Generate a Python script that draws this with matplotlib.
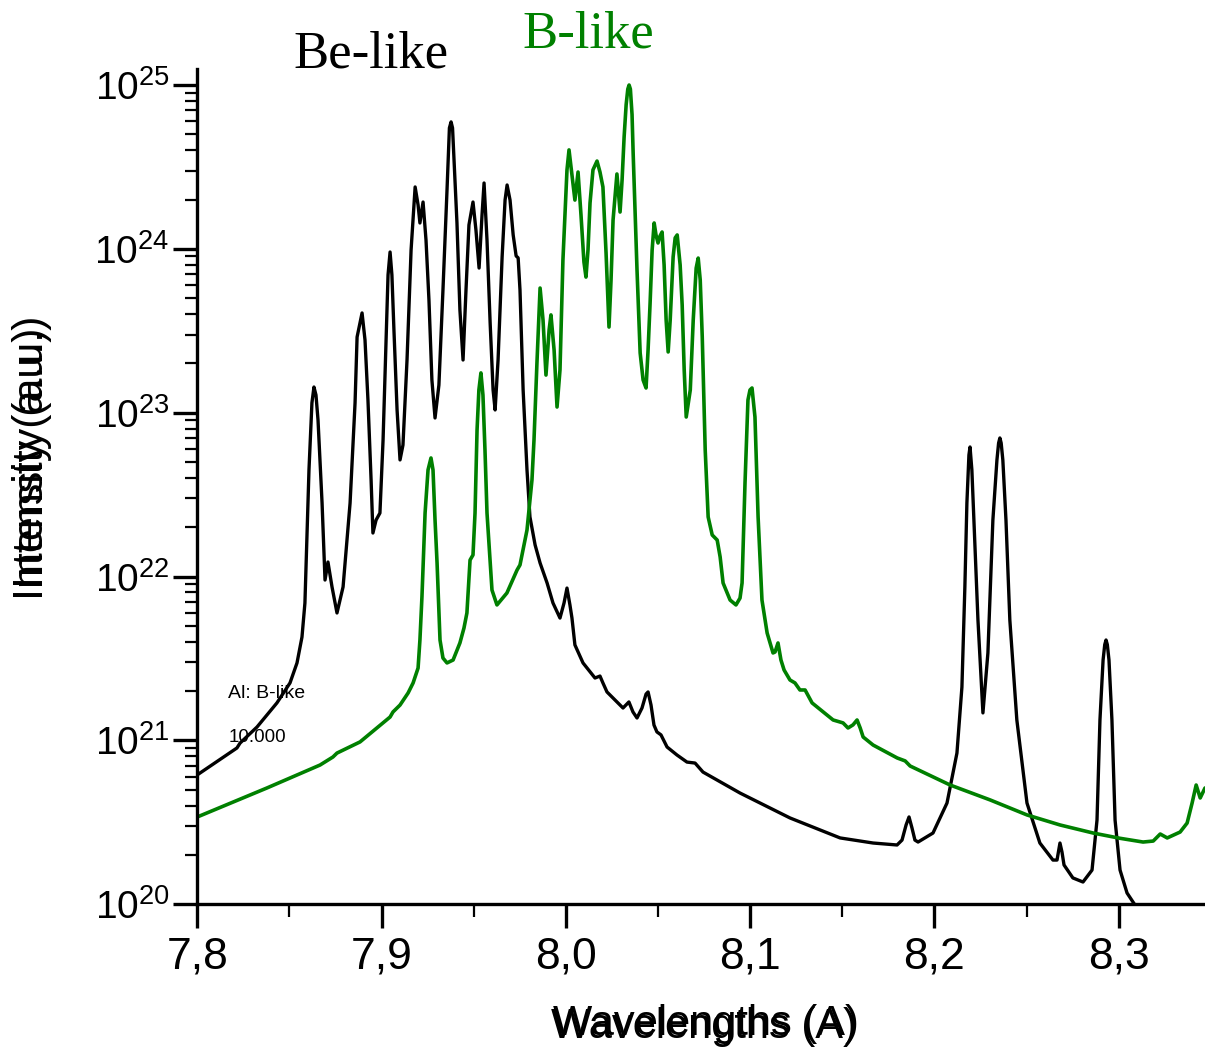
import numpy as np
import matplotlib
matplotlib.use('Agg')
import matplotlib.pyplot as plt
from matplotlib.ticker import FixedLocator, LogLocator, NullFormatter

# ---- data (wavelength in A, log10 of intensity) ----
be_wl = [7.8000, 7.8215, 7.8232, 7.8324, 7.8432, 7.8503, 7.8541, 7.8568, 7.8584, 7.8595,
         7.8606, 7.8622, 7.8633, 7.8644, 7.8655, 7.8677, 7.8693, 7.8709, 7.8731, 7.8758,
         7.8791, 7.8829, 7.8856, 7.8867, 7.8894, 7.8910, 7.8926, 7.8943, 7.8953, 7.8970,
         7.8991, 7.9008, 7.9024, 7.9035, 7.9046, 7.9056, 7.9067, 7.9084, 7.9100, 7.9116,
         7.9138, 7.9160, 7.9182, 7.9198, 7.9208, 7.9225, 7.9241, 7.9257, 7.9273, 7.9290,
         7.9311, 7.9333, 7.9355, 7.9368, 7.9377, 7.9385, 7.9393, 7.9409, 7.9425, 7.9442,
         7.9458, 7.9474, 7.9496, 7.9512, 7.9529, 7.9545, 7.9556, 7.9572, 7.9589, 7.9605,
         7.9616, 7.9632, 7.9654, 7.9670, 7.9681, 7.9697, 7.9714, 7.9730, 7.9741, 7.9751,
         7.9768, 7.9789, 7.9805, 7.9833, 7.9860, 7.9898, 7.9930, 7.9968, 7.9990, 8.0006,
         8.0022, 8.0033, 8.0049, 8.0093, 8.0158, 8.0185, 8.0201, 8.0223, 8.0310, 8.0342,
         8.0364, 8.0386, 8.0413, 8.0435, 8.0446, 8.0462, 8.0478, 8.0494, 8.0516, 8.0549,
         8.0603, 8.0657, 8.0701, 8.0744, 8.0945, 8.1216, 8.1488, 8.1667, 8.1797, 8.1824,
         8.1846, 8.1862, 8.1878, 8.1894, 8.1911, 8.1992, 8.2068, 8.2122, 8.2149, 8.2165,
         8.2176, 8.2187, 8.2193, 8.2203, 8.2214, 8.2236, 8.2263, 8.2290, 8.2317, 8.2339,
         8.2348, 8.2355, 8.2362, 8.2371, 8.2388, 8.2409, 8.2447, 8.2502, 8.2572, 8.2643,
         8.2665, 8.2681, 8.2692, 8.2703, 8.2751, 8.2806, 8.2855, 8.2882, 8.2898, 8.2915,
         8.2924, 8.2931, 8.2938, 8.2947, 8.2963, 8.2980, 8.3007, 8.3045, 8.3088, 8.3142]
be_logI = [20.790, 20.954, 20.984, 21.082, 21.229, 21.351, 21.473, 21.631, 21.839, 22.242,
           22.651, 23.060, 23.157, 23.108, 22.956, 22.449, 21.979, 22.089, 21.937, 21.778,
           21.937, 22.449, 23.060, 23.462, 23.609, 23.444, 23.078, 22.590, 22.266, 22.345,
           22.388, 22.834, 23.444, 23.841, 23.981, 23.841, 23.505, 23.017, 22.712, 22.803,
           23.322, 23.993, 24.378, 24.268, 24.158, 24.286, 24.054, 23.688, 23.200, 22.968,
           23.169, 23.749, 24.359, 24.738, 24.775, 24.738, 24.543, 24.158, 23.627, 23.322,
           23.749, 24.146, 24.286, 24.115, 23.883, 24.207, 24.402, 24.054, 23.548, 23.139,
           23.017, 23.322, 23.951, 24.298, 24.390, 24.298, 24.085, 23.957, 23.945, 23.749,
           23.139, 22.651, 22.364, 22.193, 22.083, 21.961, 21.839, 21.747, 21.839, 21.930,
           21.827, 21.747, 21.583, 21.473, 21.381, 21.393, 21.351, 21.296, 21.198, 21.235,
           21.174, 21.137, 21.198, 21.283, 21.296, 21.216, 21.094, 21.052, 21.034, 20.960,
           20.911, 20.868, 20.862, 20.807, 20.679, 20.527, 20.405, 20.374, 20.362, 20.392,
           20.484, 20.533, 20.466, 20.392, 20.380, 20.435, 20.618, 20.923, 21.326, 21.937,
           22.449, 22.742, 22.791, 22.651, 22.345, 21.735, 21.168, 21.534, 22.345, 22.712,
           22.815, 22.846, 22.815, 22.712, 22.345, 21.735, 21.125, 20.618, 20.374, 20.270,
           20.270, 20.374, 20.319, 20.240, 20.161, 20.136, 20.209, 20.514, 21.125, 21.491,
           21.585, 21.613, 21.585, 21.491, 21.125, 20.514, 20.209, 20.069, 19.996, 19.935]

b_wl = [7.8000, 7.8378, 7.8666, 7.8736, 7.8758, 7.8883, 7.9046, 7.9062, 7.9100, 7.9144,
        7.9171, 7.9198, 7.9208, 7.9219, 7.9236, 7.9252, 7.9268, 7.9279, 7.9290, 7.9301,
        7.9317, 7.9333, 7.9355, 7.9388, 7.9425, 7.9447, 7.9463, 7.9480, 7.9496, 7.9507,
        7.9518, 7.9528, 7.9539, 7.9550, 7.9561, 7.9572, 7.9599, 7.9626, 7.9680, 7.9735,
        7.9751, 7.9789, 7.9816, 7.9827, 7.9843, 7.9860, 7.9876, 7.9892, 7.9909, 7.9919,
        7.9936, 7.9952, 7.9968, 7.9984, 8.0006, 8.0017, 8.0033, 8.0049, 8.0066, 8.0082,
        8.0098, 8.0109, 8.0120, 8.0131, 8.0147, 8.0169, 8.0185, 8.0201, 8.0218, 8.0234,
        8.0245, 8.0256, 8.0277, 8.0294, 8.0305, 8.0316, 8.0327, 8.0336, 8.0343, 8.0350,
        8.0359, 8.0365, 8.0375, 8.0386, 8.0403, 8.0419, 8.0435, 8.0446, 8.0457, 8.0468,
        8.0479, 8.0489, 8.0500, 8.0511, 8.0522, 8.0533, 8.0544, 8.0555, 8.0566, 8.0582,
        8.0593, 8.0604, 8.0620, 8.0631, 8.0642, 8.0653, 8.0675, 8.0691, 8.0707, 8.0718,
        8.0729, 8.0740, 8.0756, 8.0772, 8.0794, 8.0821, 8.0837, 8.0853, 8.0891, 8.0923,
        8.0945, 8.0956, 8.0972, 8.0988, 8.0999, 8.1010, 8.1026, 8.1043, 8.1064, 8.1092,
        8.1124, 8.1135, 8.1151, 8.1167, 8.1184, 8.1216, 8.1243, 8.1270, 8.1298, 8.1336,
        8.1450, 8.1504, 8.1531, 8.1558, 8.1580, 8.1597, 8.1613, 8.1667, 8.1798, 8.1841,
        8.1868, 8.2085, 8.2302, 8.2503, 8.2682, 8.2861, 8.3006, 8.3132, 8.3187, 8.3225,
        8.3263, 8.3333, 8.3371, 8.3398, 8.3420, 8.3442, 8.3468]
b_logI = [20.533, 20.710, 20.850, 20.899, 20.923, 20.991, 21.143, 21.174, 21.216, 21.290,
          21.351, 21.442, 21.613, 21.876, 22.388, 22.651, 22.724, 22.651, 22.345, 22.083,
          21.613, 21.503, 21.473, 21.491, 21.595, 21.686, 21.778, 22.101, 22.132, 22.388,
          22.895, 23.139, 23.243, 23.108, 22.773, 22.388, 21.918, 21.827, 21.900, 22.040,
          22.071, 22.284, 22.590, 22.834, 23.304, 23.761, 23.566, 23.230, 23.505, 23.597,
          23.383, 23.035, 23.261, 23.932, 24.482, 24.604, 24.451, 24.298, 24.469, 24.207,
          23.920, 23.828, 23.993, 24.280, 24.482, 24.536, 24.469, 24.378, 23.975, 23.523,
          23.810, 24.176, 24.457, 24.225, 24.421, 24.683, 24.880, 24.975, 25.000, 24.975,
          24.820, 24.585, 24.237, 23.871, 23.365, 23.200, 23.151, 23.383, 23.670, 23.993,
          24.158, 24.085, 24.036, 24.079, 24.103, 23.902, 23.566, 23.371, 23.566, 23.951,
          24.067, 24.085, 23.902, 23.658, 23.261, 22.974, 23.139, 23.566, 23.883, 23.944,
          23.810, 23.462, 22.773, 22.364, 22.254, 22.223, 22.120, 21.961, 21.857, 21.827,
          21.869, 21.961, 22.571, 23.078, 23.139, 23.151, 22.974, 22.364, 21.857, 21.656,
          21.534, 21.540, 21.595, 21.491, 21.430, 21.369, 21.351, 21.308, 21.308, 21.229,
          21.125, 21.107, 21.076, 21.095, 21.125, 21.076, 21.021, 20.972, 20.893, 20.875,
          20.844, 20.728, 20.637, 20.545, 20.484, 20.435, 20.403, 20.380, 20.386, 20.429,
          20.405, 20.441, 20.496, 20.618, 20.728, 20.649, 20.710]

xtick_vals = [7.8, 7.9, 8.0, 8.1, 8.2, 8.3]
xtick_labels = ['7,8', '7,9', '8,0', '8,1', '8,2', '8,3']
xminor_vals = [7.85, 7.95, 8.05, 8.15, 8.25]
ytick_vals = [1e20, 1e21, 1e22, 1e23, 1e24, 1e25]
ytick_labels = [r'$10^{20}$', r'$10^{21}$', r'$10^{22}$', r'$10^{23}$', r'$10^{24}$', r'$10^{25}$']

# ---- figure ----
plt.rcParams['font.family'] = ['Liberation Sans', 'DejaVu Sans']
plt.rcParams['mathtext.default'] = 'regular'

W, H = 1205, 1048
fig = plt.figure(figsize=(W / 100, H / 100), dpi=100)
ax = fig.add_axes([197.3 / W, (H - 904.3) / H, (W - 197.3) / W, (904.3 - 69.3) / H])

GREEN = '#008000'
ax.plot(be_wl, 10 ** np.array(be_logI), color='black', lw=2.4,
        solid_joinstyle='round', solid_capstyle='round')
ax.plot(b_wl, 10 ** np.array(b_logI), color=GREEN, lw=2.6,
        solid_joinstyle='round', solid_capstyle='round')

ax.set_yscale('log')
ax.set_xlim(7.8, 8.3468)
ax.set_ylim(1e20, 10 ** 25.096)

for s in ['top', 'right']:
    ax.spines[s].set_visible(False)
for s in ['left', 'bottom']:
    ax.spines[s].set_linewidth(2.4)

ax.set_xticks(xtick_vals, labels=xtick_labels)
ax.xaxis.set_minor_locator(FixedLocator(xminor_vals))
ax.set_yticks(ytick_vals, labels=ytick_labels)
ax.yaxis.set_minor_locator(LogLocator(base=10, subs=np.arange(2, 10)))
ax.yaxis.set_minor_formatter(NullFormatter())
ax.tick_params(which='major', direction='out', length=17, width=2.4)
ax.tick_params(which='minor', direction='out', length=9, width=1.6)
ax.tick_params(axis='x', which='major', labelsize=32, pad=6)
ax.tick_params(axis='y', which='major', labelsize=28, pad=3)

# doubled axis labels (as in the original)
for yc in (464, 452):
    fig.text(32 / W, 1 - yc / H, 'Intensity (a.u.)', rotation=90,
             ha='center', va='center', fontsize=31)
for dx, dy in ((0, 0), (2, -3)):
    fig.text((704 + dx) / W, 1 - (1038 + dy) / H, 'Wavelengths (A)',
             ha='center', va='baseline', fontsize=30)

fig.text(293 / W, 1 - 67 / H, 'Be-like', family=['Liberation Serif', 'DejaVu Serif'],
         fontsize=38, ha='left', va='baseline', color='black')
fig.text(522 / W, 1 - 47 / H, 'B-like', family=['Liberation Serif', 'DejaVu Serif'],
         fontsize=38, ha='left', va='baseline', color=GREEN)
fig.text(228 / W, 1 - 698 / H, 'Al: B-like', fontsize=14, ha='left', va='baseline')
fig.text(229 / W, 1 - 742 / H, '10.000', fontsize=13.5, ha='left', va='baseline')

fig.savefig('out.png', dpi=100)
